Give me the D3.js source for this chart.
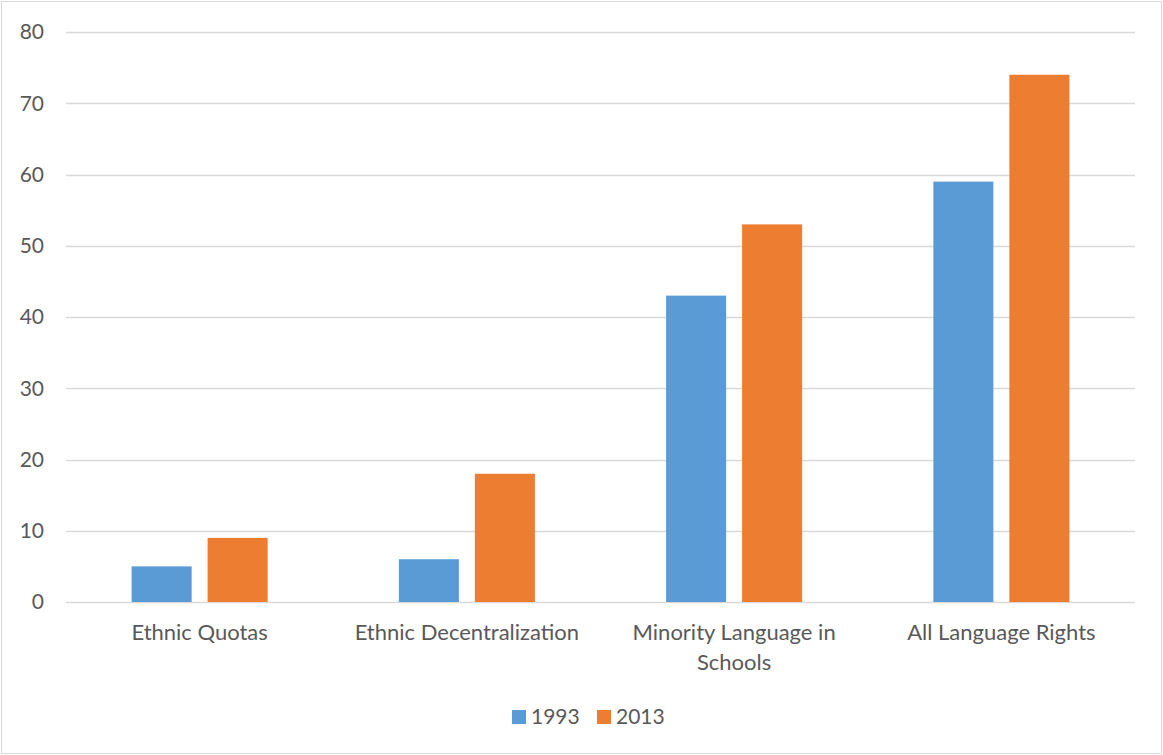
<!DOCTYPE html>
<html><head><meta charset="utf-8">
<script src="https://cdn.jsdelivr.net/npm/d3@7"></script>
<style>
html,body{margin:0;padding:0;background:#fff;}
svg{display:block;}
text{font-family:Lato,"Open Sans",sans-serif;fill:#595959;}
</style></head>
<body>
<svg id="chart" width="1163" height="755"></svg>
<script>
const categories = ["Ethnic Quotas", "Ethnic Decentralization", "Minority Language in Schools", "All Language Rights"];
const categoryLines = [["Ethnic Quotas"], ["Ethnic Decentralization"], ["Minority Language in", "Schools"], ["All Language Rights"]];
const seriesNames = ["1993", "2013"];
const values1993 = [5, 6, 43, 59];
const values2013 = [9, 18, 53, 74];
const yTicks = [0, 10, 20, 30, 40, 50, 60, 70, 80];
const colors = ["#5B9BD5", "#ED7D31"];

const W = 1163, H = 755;
const m = {left: 66, right: 28, top: 32, bottom: 153};
const svg = d3.select("#chart");

svg.append("rect").attr("x", 1.5).attr("y", 1.5).attr("width", W - 3).attr("height", H - 3)
  .attr("fill", "#fff").attr("stroke", "#d9d9d9").attr("stroke-width", 1);

const x0 = d3.scaleBand().domain(categories).range([m.left, W - m.right]).paddingInner(0).paddingOuter(0);
const x1 = d3.scaleBand().domain(seriesNames).range([0, x0.bandwidth()]).paddingInner(0.21).paddingOuter(0.863);
const y = d3.scaleLinear().domain([0, 80]).range([H - m.bottom, m.top]);

// gridlines
svg.append("g").selectAll("line").data(yTicks).join("line")
  .attr("x1", m.left).attr("x2", W - m.right)
  .attr("y1", d => Math.round(y(d)) + 0.5).attr("y2", d => Math.round(y(d)) + 0.5)
  .attr("stroke", "#d9d9d9").attr("stroke-width", 1.3);

// y tick labels
svg.append("g").selectAll("text").data(yTicks).join("text")
  .attr("x", 44).attr("y", d => y(d)).attr("dy", "0.35em")
  .attr("text-anchor", "end").attr("font-size", 21).text(d => d);

const data = categories.map((c, i) => ({cat: c, vals: [values1993[i], values2013[i]]}));

const groups = svg.append("g").selectAll("g").data(data).join("g")
  .attr("transform", d => `translate(${x0(d.cat)},0)`);
groups.selectAll("rect").data(d => d.vals.map((v, j) => ({s: seriesNames[j], v, j}))).join("rect")
  .attr("x", d => x1(d.s)).attr("width", x1.bandwidth())
  .attr("y", d => y(d.v)).attr("height", d => y(0) - y(d.v))
  .attr("fill", d => colors[d.j]);

// category labels
const cl = svg.append("g").selectAll("text").data(categories).join("text")
  .attr("text-anchor", "middle").attr("font-size", 22)
  .attr("x", d => x0(d) + x0.bandwidth() / 2).attr("y", 640);
cl.each(function(d, i) {
  d3.select(this).selectAll("tspan").data(categoryLines[i]).join("tspan")
    .attr("x", x0(d) + x0.bandwidth() / 2).attr("dy", (t, k) => k === 0 ? 0 : 30).text(t => t);
});

// legend
const legendX = [512, 597];
const lg = svg.append("g").selectAll("g").data(seriesNames).join("g")
  .attr("transform", (d, i) => `translate(${legendX[i]},710)`);
lg.append("rect").attr("width", 14).attr("height", 14).attr("fill", (d, i) => colors[i]);
lg.append("text").attr("x", 19).attr("y", 7).attr("dy", "0.35em").attr("font-size", 21).text(d => d);
</script>
</body></html>
